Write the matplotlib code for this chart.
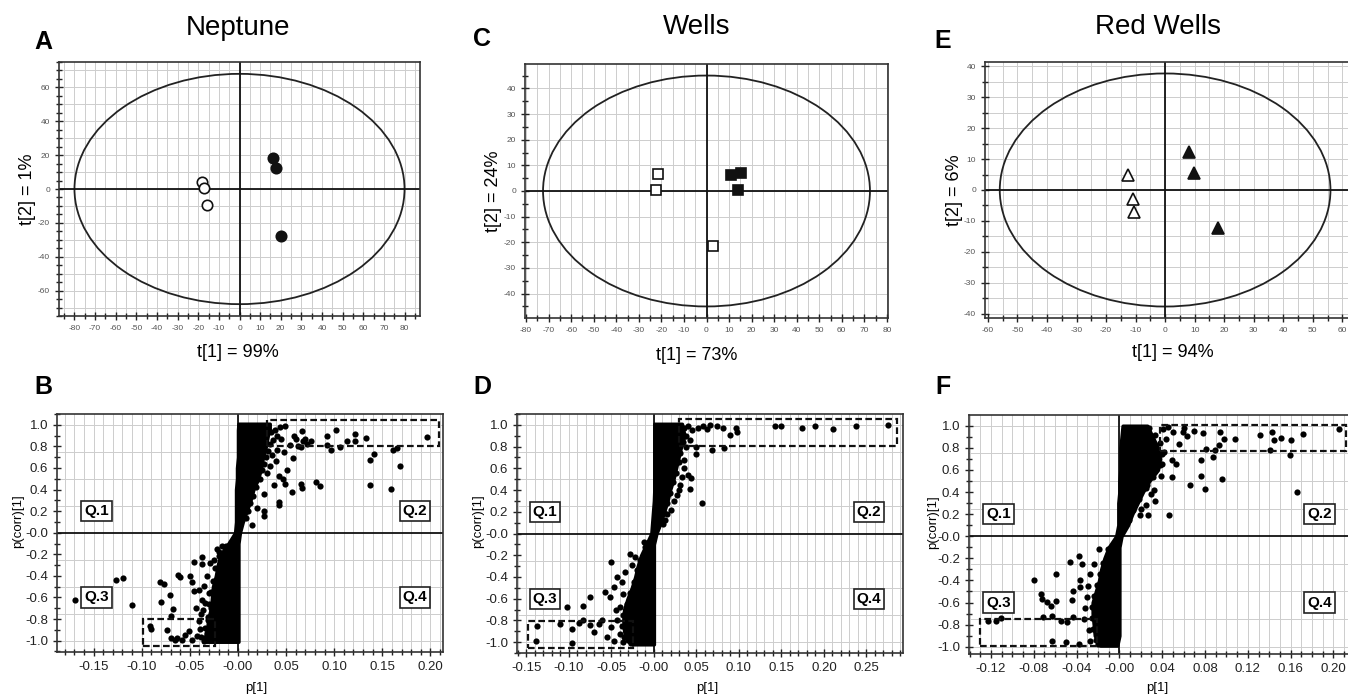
import matplotlib
matplotlib.use('Agg')
import matplotlib.pyplot as plt
from matplotlib.patches import Ellipse, Rectangle
from matplotlib.ticker import MultipleLocator

plt.rcParams['font.family'] = ['Liberation Sans', 'DejaVu Sans']

# ---- score plots (t[1] vs t[2]) ----
nep_open_x = [-18.3, -17.0, -15.7]
nep_open_y = [4.3, 0.4, -9.2]
nep_fill_x = [16.3, 17.5, 19.9]
nep_fill_y = [18.6, 12.5, -27.6]
nep_ellipse = (80, 68)

wel_open_x = [-21.4, -22.3, 2.8]
wel_open_y = [6.5, 0.4, -21.5]
wel_fill_x = [11.0, 15.5, 14.0]
wel_fill_y = [6.2, 7.1, 0.4]
wel_ellipse = (72.5, 45)

red_open_x = [-12.7, -11.0, -10.7]
red_open_y = [4.8, -2.9, -7.2]
red_fill_x = [8.1, 9.9, 18.0]
red_fill_y = [12.4, 5.4, -12.3]
red_ellipse = (56, 37.6)

# ---- S-plots (p[1] vs p(corr)[1]) ----
# dense core of loadings, given as left/right edge for each p(corr) level
b_core_y = [-1.01, -0.9, -0.8, -0.7, -0.6, -0.5, -0.4, -0.3, -0.2, -0.1, 0.0,
            0.1, 0.2, 0.3, 0.4, 0.5, 0.6, 0.7, 0.8, 0.9, 0.95, 1.01]
b_core_l = [-0.036, -0.032, -0.031, -0.028, -0.027, -0.026, -0.023, -0.021, -0.018, -0.010, -0.003,
            -0.002, -0.002, -0.002, -0.002, -0.001, -0.001, 0.0, 0.0, 0.0, 0.0, 0.0005]
b_core_r = [0.0005, 0.0005, 0.0005, 0.0005, 0.0005, 0.0005, 0.0005, 0.0005, 0.0005, 0.0005, 0.002,
            0.005, 0.009, 0.013, 0.016, 0.021, 0.024, 0.026, 0.029, 0.031, 0.033, 0.033]
b_pts = [(0.058, 0.898), (0.068, 0.846), (0.066, 0.793), (0.076, 0.852), (0.093, 0.815), (0.093, 0.898),
         (0.102, 0.948), (0.097, 0.769), (0.106, 0.793), (0.113, 0.849), (0.122, 0.917), (0.122, 0.849),
         (0.133, 0.877), (0.196, 0.889), (0.161, 0.762), (0.165, 0.784), (0.141, 0.731), (0.137, 0.670),
         (0.168, 0.620), (0.137, 0.441), (0.159, 0.404), (0.081, 0.466), (0.085, 0.435), (0.065, 0.454),
         (0.067, 0.414), (0.056, 0.373), (0.049, 0.454), (0.043, 0.281), (0.043, 0.253), (0.027, 0.361),
         (0.027, 0.151), (0.020, 0.228), (0.027, 0.198), (0.015, 0.068), (0.057, 0.691), (0.051, 0.577),
         (0.047, 0.497), (0.043, 0.528), (0.037, 0.444), (0.049, 0.985), (0.067, 0.938), (0.041, 0.892),
         (0.054, 0.812), (0.041, 0.769), (0.038, 0.950), (0.035, 0.720), (0.045, 0.870), (0.033, 0.620),
         (0.040, 0.660), (0.048, 0.750), (0.030, 0.550), (0.044, 0.980), (0.060, 0.870), (0.062, 0.800),
         (0.070, 0.870), (0.072, 0.820),
         (0.030, 0.970), (0.034, 0.930), (0.036, 0.860), (0.033, 0.820), (0.031, 0.760), (0.029, 0.700),
         (0.027, 0.640), (0.025, 0.580), (0.023, 0.500), (0.019, 0.420), (0.016, 0.340), (0.013, 0.280),
         (0.010, 0.200), (0.008, 0.140),
         (-0.169, -0.627), (-0.127, -0.441), (-0.119, -0.423), (-0.110, -0.673), (-0.091, -0.867),
         (-0.090, -0.890), (-0.081, -0.454), (-0.077, -0.472), (-0.080, -0.645), (-0.071, -0.574),
         (-0.070, -0.769), (-0.068, -0.707), (-0.074, -0.904), (-0.070, -0.978), (-0.062, -0.389),
         (-0.060, -0.410), (-0.058, -0.991), (-0.063, -0.978), (-0.051, -0.914), (-0.046, -0.269),
         (-0.037, -0.225), (-0.037, -0.287), (-0.029, -0.281), (-0.020, -0.182), (-0.050, -0.398),
         (-0.048, -0.460), (-0.046, -0.543), (-0.041, -0.528), (-0.037, -0.620), (-0.035, -0.497),
         (-0.032, -0.404), (-0.030, -0.559), (-0.044, -0.698), (-0.040, -0.821), (-0.036, -0.713),
         (-0.048, -0.991), (-0.043, -0.960), (-0.039, -0.892), (-0.032, -0.929), (-0.031, -0.806),
         (-0.025, -0.250), (-0.022, -0.150), (-0.017, -0.120), (-0.034, -0.650), (-0.038, -0.750),
         (-0.028, -0.700), (-0.026, -0.950), (-0.035, -1.000), (-0.055, -0.950), (-0.065, -0.990),
         (-0.012, -0.120), (-0.020, -0.220), (-0.024, -0.330), (-0.026, -0.450), (-0.028, -0.550),
         (-0.030, -0.660), (-0.031, -0.780), (-0.034, -0.880), (-0.038, -0.970)]

d_core_y = [-1.02, -0.95, -0.9, -0.8, -0.7, -0.6, -0.5, -0.4, -0.3, -0.2, -0.1, 0.0,
            0.1, 0.2, 0.3, 0.4, 0.5, 0.6, 0.7, 0.8, 0.9, 1.01]
d_core_l = [-0.028, -0.033, -0.035, -0.036, -0.035, -0.031, -0.026, -0.022, -0.019, -0.015, -0.009, -0.003,
            -0.002, -0.001, 0.0, 0.0005, 0.0005, 0.0005, 0.0005, 0.0005, 0.0005, 0.0005]
d_core_r = [0.0, 0.0, 0.0, 0.0, 0.0, 0.0, 0.0, 0.0, 0.0, 0.0, 0.0, 0.003,
            0.008, 0.012, 0.016, 0.019, 0.023, 0.026, 0.029, 0.032, 0.036, 0.033]
d_pts = [(0.058, 0.985), (0.066, 1.000), (0.074, 0.985), (0.081, 0.969), (0.090, 0.908), (0.097, 0.969),
         (0.098, 0.938), (0.142, 0.985), (0.150, 0.985), (0.174, 0.975), (0.189, 0.985), (0.211, 0.963),
         (0.238, 0.985), (0.275, 0.997), (0.050, 0.794), (0.049, 0.732), (0.068, 0.769), (0.083, 0.785),
         (0.057, 0.277), (0.040, 0.538), (0.044, 0.508), (0.042, 0.406), (0.031, 0.446), (0.027, 0.354),
         (0.035, 0.677), (0.043, 0.862), (0.011, 0.092), (0.013, 0.120), (0.045, 0.950), (0.052, 0.970),
         (0.040, 0.990), (0.062, 0.960), (0.038, 0.800), (0.036, 0.600), (0.033, 0.520), (0.029, 0.400),
         (0.024, 0.300), (0.020, 0.220), (0.015, 0.180),
         (0.036, 0.970), (0.038, 0.900), (0.034, 0.840), (0.031, 0.740), (0.029, 0.660), (0.026, 0.560),
         (0.023, 0.470), (0.019, 0.370), (0.016, 0.280), (0.012, 0.190),
         (-0.050, -0.262), (-0.047, -0.492), (-0.058, -0.538), (-0.075, -0.585), (-0.102, -0.677),
         (-0.083, -0.671), (-0.110, -0.831), (-0.096, -0.877), (-0.138, -0.852), (-0.139, -0.985),
         (-0.096, -1.009), (-0.083, -0.800), (-0.075, -0.846), (-0.070, -0.908), (-0.061, -0.800),
         (-0.055, -0.954), (-0.051, -0.862), (-0.043, -0.794), (-0.047, -0.985), (-0.040, -0.923),
         (-0.034, -0.357), (-0.028, -0.185), (-0.022, -0.215), (-0.026, -0.292), (-0.036, -0.554),
         (-0.012, -0.077), (-0.043, -0.400), (-0.040, -0.677), (-0.088, -0.820), (-0.065, -0.830),
         (-0.052, -0.580), (-0.045, -0.700), (-0.038, -0.450), (-0.030, -0.980), (-0.036, -1.000),
         (-0.010, -0.120), (-0.016, -0.240), (-0.020, -0.340), (-0.023, -0.450), (-0.028, -0.550),
         (-0.032, -0.650), (-0.036, -0.750), (-0.037, -0.850), (-0.035, -0.950)]

f_core_y = [-0.99, -0.9, -0.8, -0.7, -0.6, -0.5, -0.4, -0.3, -0.2, -0.1, 0.0,
            0.1, 0.2, 0.3, 0.4, 0.5, 0.6, 0.7, 0.8, 0.9, 1.0]
f_core_l = [-0.018, -0.023, -0.024, -0.025, -0.025, -0.022, -0.019, -0.017, -0.014, -0.010, -0.003,
            -0.001, -0.001, -0.001, 0.0, 0.0, 0.001, 0.001, 0.001, 0.002, 0.003]
f_core_r = [-0.002, 0.0, 0.0, 0.0, 0.0, 0.0, 0.0, 0.0, 0.0, 0.0, 0.002,
            0.008, 0.012, 0.017, 0.022, 0.028, 0.036, 0.038, 0.036, 0.031, 0.026]
f_pts = [(0.041, 0.973), (0.050, 0.943), (0.059, 0.943), (0.063, 0.903), (0.078, 0.934), (0.094, 0.943),
         (0.098, 0.882), (0.108, 0.882), (0.131, 0.912), (0.143, 0.943), (0.144, 0.867), (0.151, 0.891),
         (0.160, 0.867), (0.172, 0.927), (0.205, 0.973), (0.141, 0.782), (0.159, 0.737), (0.093, 0.822),
         (0.089, 0.776), (0.081, 0.792), (0.087, 0.716), (0.076, 0.692), (0.056, 0.837), (0.049, 0.686),
         (0.053, 0.650), (0.039, 0.541), (0.049, 0.535), (0.066, 0.459), (0.076, 0.541), (0.080, 0.429),
         (0.096, 0.520), (0.166, 0.399), (0.046, 0.193), (0.019, 0.193), (0.027, 0.193), (0.033, 0.323),
         (0.032, 0.414), (0.026, 0.459), (0.045, 0.990), (0.044, 0.880), (0.042, 0.760), (0.040, 0.650),
         (0.030, 0.380), (0.025, 0.280), (0.020, 0.250), (0.060, 0.980), (0.070, 0.950),
         (0.028, 0.980), (0.033, 0.920), (0.038, 0.840), (0.040, 0.740), (0.038, 0.640), (0.031, 0.540),
         (0.025, 0.440), (0.018, 0.340), (0.013, 0.240), (0.009, 0.150),
         (-0.080, -0.396), (-0.059, -0.341), (-0.046, -0.236), (-0.038, -0.175), (-0.035, -0.251),
         (-0.037, -0.396), (-0.043, -0.498), (-0.037, -0.462), (-0.073, -0.523), (-0.072, -0.568),
         (-0.068, -0.598), (-0.064, -0.628), (-0.059, -0.589), (-0.044, -0.577), (-0.123, -0.764),
         (-0.115, -0.764), (-0.111, -0.740), (-0.071, -0.734), (-0.063, -0.719), (-0.055, -0.764),
         (-0.049, -0.779), (-0.063, -0.946), (-0.050, -0.961), (-0.038, -0.976), (-0.043, -0.734),
         (-0.033, -0.750), (-0.027, -0.341), (-0.024, -0.251), (-0.030, -0.550), (-0.032, -0.650),
         (-0.028, -0.850), (-0.027, -0.950), (-0.020, -0.980), (-0.029, -0.450), (-0.019, -0.120),
         (-0.011, -0.120), (-0.015, -0.240), (-0.018, -0.340), (-0.021, -0.440), (-0.024, -0.540),
         (-0.026, -0.640), (-0.026, -0.740), (-0.025, -0.840), (-0.022, -0.940)]

# dashed selection boxes: (x0, y0, x1, y1)
b_boxes = [(0.030, 0.80, 0.209, 1.045), (-0.099, -1.045, -0.024, -0.80)]
d_boxes = [(0.030, 0.81, 0.286, 1.05), (-0.148, -1.05, -0.0246, -0.81)]
f_boxes = [(0.038, 0.774, 0.212, 1.005), (-0.130, -0.99, -0.021, -0.752)]

s_yticks = [1.0, 0.8, 0.6, 0.4, 0.2, 0.0, -0.2, -0.4, -0.6, -0.8, -1.0]
s_ylabels = ['1.0', '0.8', '0.6', '0.4', '0.2', '-0.0', '-0.2', '-0.4', '-0.6', '-0.8', '-1.0']
b_xticks = [-0.15, -0.10, -0.05, 0.0, 0.05, 0.10, 0.15, 0.20]
b_xlabels = ['-0.15', '-0.10', '-0.05', '-0.00', '0.05', '0.10', '0.15', '0.20']
d_xticks = [-0.15, -0.10, -0.05, 0.0, 0.05, 0.10, 0.15, 0.20, 0.25]
d_xlabels = ['-0.15', '-0.10', '-0.05', '-0.00', '0.05', '0.10', '0.15', '0.20', '0.25']
f_xticks = [-0.12, -0.08, -0.04, 0.0, 0.04, 0.08, 0.12, 0.16, 0.20]
f_xlabels = ['-0.12', '-0.08', '-0.04', '-0.00', '0.04', '0.08', '0.12', '0.16', '0.20']

W, H = 1348, 696
fig = plt.figure(figsize=(W / 100, H / 100), dpi=100)
GRID = '#cdcdcd'


def px_axes(l, r, t, b):
    return fig.add_axes([l / W, 1 - b / H, (r - l) / W, (b - t) / H])


def style_axes(ax, tick_size, tick_color):
    for sp in ax.spines.values():
        sp.set_linewidth(1.2)
        sp.set_color('#333333')
    ax.tick_params(which='both', direction='inout', top=False, right=False,
                   labelsize=tick_size, labelcolor=tick_color, width=1.0, color='#222222')
    ax.tick_params(which='major', length=6)
    ax.tick_params(which='minor', length=4)
    ax.set_axisbelow(True)


def score_panel(ax, xlim, ylim, xstep, ystep, ygrid, ell, ox, oy, fx, fy, marker, ms,
                xlabel, ylabel, xlab_pos, ylab_pos):
    ax.set_xlim(xlim)
    ax.set_ylim(ylim)
    ax.xaxis.set_major_locator(MultipleLocator(xstep))
    ax.xaxis.set_minor_locator(MultipleLocator(5))
    ax.yaxis.set_major_locator(MultipleLocator(ystep))
    ax.yaxis.set_minor_locator(MultipleLocator(5))
    ax.xaxis.set_major_formatter(lambda v, p: '%d' % round(v))
    ax.yaxis.set_major_formatter(lambda v, p: '%d' % round(v))
    ax.grid(which='both', axis='x', color=GRID, lw=0.7)
    g = ygrid * int(ylim[0] / ygrid)
    while g <= ylim[1]:
        ax.axhline(g, color=GRID, lw=0.7, zorder=0)
        g += ygrid
    style_axes(ax, 6, '#555555')
    ax.axhline(0, color='#111111', lw=1.3)
    ax.axvline(0, color='#111111', lw=1.3)
    ax.add_patch(Ellipse((0, 0), 2 * ell[0], 2 * ell[1], fill=False, ec='#222222', lw=1.3))
    ax.plot(ox, oy, ls='none', marker=marker, ms=ms, mfc='white', mec='#111111', mew=1.2)
    ax.plot(fx, fy, ls='none', marker=marker, ms=ms, mfc='#111111', mec='#111111', mew=1.2)
    ax.text(xlab_pos[0], xlab_pos[1], xlabel, transform=ax.transAxes, ha='center', va='center', fontsize=13)
    ax.text(ylab_pos[0], ylab_pos[1], ylabel, transform=ax.transAxes, ha='center', va='center',
            fontsize=13, rotation=90)


def s_panel(ax, xlim, ylim, xticks, xlabels, core_y, core_l, core_r, pts, boxes, q_x, xlab_pos, ylab_pos):
    ax.set_xlim(xlim)
    ax.set_ylim(ylim)
    ax.set_xticks(xticks)
    ax.set_xticklabels(xlabels)
    ax.set_yticks(s_yticks)
    ax.set_yticklabels(s_ylabels)
    ax.xaxis.set_minor_locator(MultipleLocator(0.01))
    ax.yaxis.set_minor_locator(MultipleLocator(0.1))
    ax.grid(which='both', axis='x', color=GRID, lw=0.7)
    for gy in [1.0, 0.75, 0.5, 0.25, -0.25, -0.5, -0.75, -1.0]:
        ax.axhline(gy, color=GRID, lw=0.7, zorder=0)
    style_axes(ax, 9.5, '#222222')
    ax.axhline(0, color='#111111', lw=1.3)
    ax.axvline(0, color='#111111', lw=1.3)
    ax.fill_betweenx(core_y, core_l, core_r, color='black', lw=2.5, zorder=3)
    px = [p[0] for p in pts]
    py = [p[1] for p in pts]
    ax.scatter(px, py, s=20, c='black', lw=0, zorder=4)
    for x0, y0, x1, y1 in boxes:
        ax.add_patch(Rectangle((x0, y0), x1 - x0, y1 - y0, fill=False, ec='#111111',
                               lw=1.6, ls=(0, (3, 1.5)), zorder=5))
    bb = dict(boxstyle='square,pad=0.2', fc='white', ec='#222222', lw=1.2)
    for q, x, y in [('Q.1', q_x[0], 0.2), ('Q.2', q_x[1], 0.2), ('Q.3', q_x[0], -0.6), ('Q.4', q_x[1], -0.6)]:
        ax.text(x, y, q, fontsize=11, fontweight='bold', ha='center', va='center', bbox=bb, zorder=6)
    ax.text(xlab_pos[0], xlab_pos[1], 'p[1]', transform=ax.transAxes, ha='center', va='center', fontsize=9.5)
    ax.text(ylab_pos[0], ylab_pos[1], 'p(corr)[1]', transform=ax.transAxes, ha='center', va='center',
            fontsize=9.5, rotation=90)


axA = px_axes(59, 420, 62, 316)
score_panel(axA, (-87.5, 87.5), (-75, 75), 10, 20, 10, nep_ellipse,
            nep_open_x, nep_open_y, nep_fill_x, nep_fill_y, 'o', 7.5,
            't[1] = 99%', 't[2] = 1%', (0.496, -0.142), (-0.086, 0.5))

axC = px_axes(525, 888, 64, 318)
score_panel(axC, (-80.5, 80.5), (-49.5, 49.5), 10, 10, 10, wel_ellipse,
            wel_open_x, wel_open_y, wel_fill_x, wel_fill_y, 's', 6.5,
            't[1] = 73%', 't[2] = 24%', (0.474, -0.146), (-0.088, 0.5))

axE = px_axes(985, 1360, 62, 318)
score_panel(axE, (-61, 66), (-41.3, 41.3), 10, 10, 5, red_ellipse,
            red_open_x, red_open_y, red_fill_x, red_fill_y, '^', 9,
            't[1] = 94%', 't[2] = 6%', (0.50, -0.134), (-0.08, 0.5))

axB = px_axes(57, 443, 414, 652)
s_panel(axB, (-0.188, 0.213), (-1.105, 1.10), b_xticks, b_xlabels, b_core_y, b_core_l, b_core_r,
        b_pts, b_boxes, (-0.147, 0.184), (0.517, -0.15), (-0.10, 0.55))

axD = px_axes(517, 903, 414, 653)
s_panel(axD, (-0.161, 0.293), (-1.10, 1.10), d_xticks, d_xlabels, d_core_y, d_core_l, d_core_r,
        d_pts, d_boxes, (-0.128, 0.253), (0.492, -0.145), (-0.10, 0.55))

axF = px_axes(969, 1357, 415, 654)
s_panel(axF, (-0.1405, 0.222), (-1.066, 1.097), f_xticks, f_xlabels, f_core_y, f_core_l, f_core_r,
        f_pts, f_boxes, (-0.113, 0.187), (0.484, -0.143), (-0.093, 0.55))

# titles and panel letters
for txt, x, y in [('Neptune', 238, 28), ('Wells', 697, 27), ('Red Wells', 1158, 27)]:
    fig.text(x / W, 1 - y / H, txt, fontsize=20, ha='center', va='center')
for txt, x, y in [('A', 43, 42), ('C', 482, 39), ('E', 943, 41),
                  ('B', 43, 387), ('D', 482, 387), ('F', 943, 387)]:
    fig.text(x / W, 1 - y / H, txt, fontsize=18, fontweight='bold', ha='center', va='center')

fig.savefig('out.png', dpi=100)
